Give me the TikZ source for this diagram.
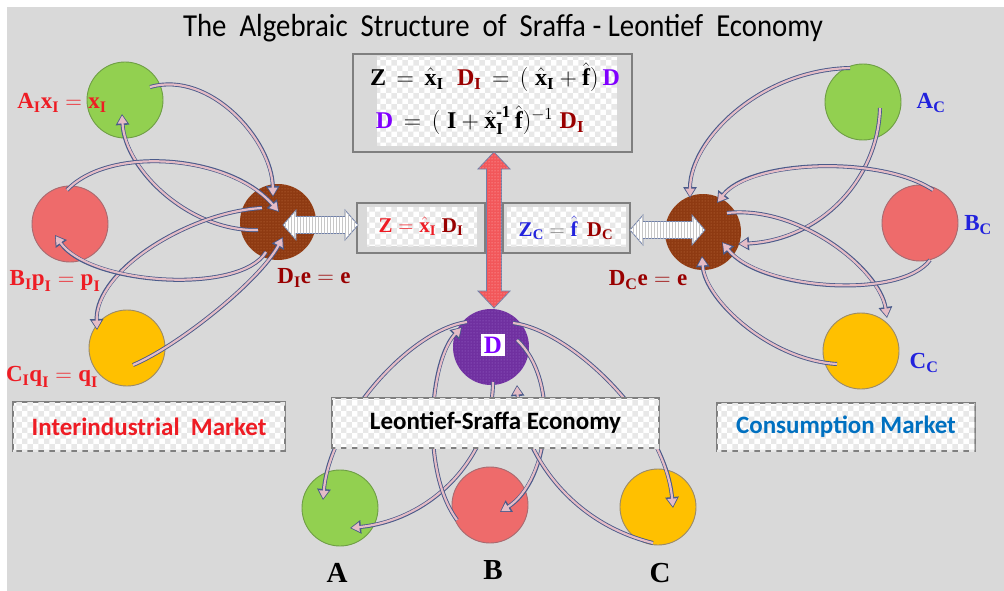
\RequirePackage{fix-cm}
\documentclass[tikz,border=0pt]{standalone}
\usepackage{fontspec}
\usepackage{amsmath}
\newfontfamily\calib{Carlito}
\newfontfamily\titlef[FakeStretch=0.9]{Carlito}
\newfontfamily\tnr{Liberation Serif}
\newcommand\tb[1]{\text{\tnr\bfseries #1}}
\usetikzlibrary{arrows.meta,patterns}
\definecolor{bg}{HTML}{D9D9D9}
\definecolor{cgreen}{HTML}{92D050}
\definecolor{cgreenE}{HTML}{6E9E45}
\definecolor{cred}{HTML}{EE6B6B}
\definecolor{credE}{HTML}{A86A70}
\definecolor{cyel}{HTML}{FFC000}
\definecolor{cyelE}{HTML}{9A8A6A}
\definecolor{cbrown}{HTML}{8E3A12}
\definecolor{cbrownD}{HTML}{C8784A}
\definecolor{cpurp}{HTML}{7030A0}
\definecolor{cpurpD}{HTML}{A070D0}
\definecolor{ribE}{HTML}{4A5A8A}
\definecolor{ribF}{HTML}{E4BCC6}
\definecolor{boxE}{HTML}{7F7F7F}
\definecolor{arrE}{HTML}{7080A8}
\definecolor{tred}{HTML}{EE1C24}
\definecolor{tdred}{HTML}{990000}
\definecolor{tblue}{HTML}{2222DD}
\definecolor{tpurp}{HTML}{8000FF}
\definecolor{tcblue}{HTML}{0070C0}
\definecolor{arrred}{HTML}{F2575A}
\tikzset{
  ball/.style={circle, minimum size=76pt, inner sep=0pt, line width=0.9pt},
  ribout/.style={line width=4pt, draw=ribE, -{Triangle[length=11pt,width=13pt]}},
  ribin/.style={line width=2.2pt, draw=ribF, shorten >=1.4pt, -{Triangle[length=8pt,width=9pt]}},
  frame/.style={draw=boxE, line width=2.6pt, fill=bg, inner sep=0pt},
  chk/.style={fill=white, postaction={pattern=checkerboard, pattern color=black!9}},
  mlabel/.style={font=\fontsize{23}{26}\selectfont, inner sep=0pt},
  flabel/.style={font=\fontsize{21}{24}\selectfont, inner sep=0pt},
  tlabel/.style={font=\fontsize{24}{28}\selectfont, inner sep=0pt},
  sanslab/.style={font=\calib\bfseries\fontsize{25}{28}\selectfont},
  warrow/.style={draw=arrE, line width=0.8pt, fill=white, postaction={pattern=vertical lines, pattern color=black!22}},
  rarrow/.style={draw=arrE, line width=0.8pt, fill=arrred, postaction={pattern=dots, pattern color=red!25!white}},
}
\newcommand\ribbon[3]{%
  \draw[ribout] (#1) .. controls #2 .. (#3);
  \draw[ribin] (#1) .. controls #2 .. (#3);}
\begin{document}
\begin{tikzpicture}[x=1pt,y=-1pt]
\useasboundingbox (0,0) rectangle (1004,591);
\fill[white] (0,0) rectangle (1004,591);
\fill[bg] (7,7) rectangle (1004,591);
% title
\node[font=\titlef\fontsize{32}{36}\selectfont] (title) at (503,28) {The\ \ Algebraic\ \ Structure\ \ of\ \ Sraffa - Leontief\ \ Economy};
% circles
\node[ball, fill=cgreen, draw=cgreenE] (AI) at (125,100) {};
\node[ball, fill=cred, draw=credE] (BI) at (70,224) {};
\node[ball, fill=cyel, draw=cyelE] (CI) at (127,348) {};
\node[ball, fill=cbrown, postaction={pattern=dots, pattern color=cbrownD}] (DI) at (278,222) {};
\node[ball, fill=cgreen, draw=cgreenE] (AC) at (863,102) {};
\node[ball, fill=cred, draw=credE] (BC) at (920,223) {};
\node[ball, fill=cyel, draw=cyelE] (CC) at (861,351) {};
\node[ball, fill=cbrown, postaction={pattern=dots, pattern color=cbrownD}] (DC) at (703,232) {};
\node[ball, fill=cpurp, postaction={pattern=dots, pattern color=cpurpD}] (D) at (491,347) {};
\node[ball, fill=cgreen, draw=cgreenE] (A) at (340,508) {};
\node[ball, fill=cred, draw=credE] (B) at (490,505) {};
\node[ball, fill=cyel, draw=cyelE] (C) at (658,507) {};
% ribbon end points
\coordinate (l1a) at (150,87);  \coordinate (l1b) at (273,197);
\coordinate (l2a) at (258,230); \coordinate (l2b) at (122,114);
\coordinate (l3a) at (67,190);  \coordinate (l3b) at (279,212);
\coordinate (l4a) at (262,208); \coordinate (l4b) at (97,330);
\coordinate (l5a) at (266,252); \coordinate (l5b) at (55,235);
\coordinate (l6a) at (133,365); \coordinate (l6b) at (283,237);
\coordinate (r1a) at (850,68);  \coordinate (r1b) at (690,198);
\coordinate (r2a) at (880,108); \coordinate (r2b) at (738,244);
\coordinate (r3a) at (933,190); \coordinate (r3b) at (717,203);
\coordinate (r4a) at (727,213); \coordinate (r4b) at (887,318);
\coordinate (r5a) at (930,260); \coordinate (r5b) at (722,242);
\coordinate (r6a) at (837,364); \coordinate (r6b) at (702,256);
\coordinate (c1a) at (493,382); \coordinate (c1b) at (350,528);
\coordinate (c2a) at (467,322); \coordinate (c2b) at (323,500);
\coordinate (c3a) at (457,520); \coordinate (c3b) at (462,327);
\coordinate (c4a) at (513,323); \coordinate (c4b) at (673,508);
\coordinate (c5a) at (517,340); \coordinate (c5b) at (500,512);
\coordinate (c6a) at (653,543); \coordinate (c6b) at (517,385);
% left ribbons
\ribbon{l1a}{(210,70) and (272,140)}{l1b}
\ribbon{l2a}{(190,232) and (125,170)}{l2b}
\ribbon{l3a}{(110,145) and (230,155)}{l3b}
\ribbon{l4a}{(190,212) and (95,270)}{l4b}
\ribbon{l5a}{(240,295) and (90,285)}{l5b}
\ribbon{l6a}{(180,345) and (260,280)}{l6b}
% right ribbons
\ribbon{r1a}{(760,70) and (690,140)}{r1b}
\ribbon{r2a}{(878,180) and (820,240)}{r2b}
\ribbon{r3a}{(880,155) and (750,160)}{r3b}
\ribbon{r4a}{(800,205) and (880,270)}{r4b}
\ribbon{r5a}{(900,300) and (760,290)}{r5b}
\ribbon{r6a}{(770,360) and (705,300)}{r6b}
% center ribbons
\ribbon{c1a}{(492,460) and (430,520)}{c1b}
\ribbon{c2a}{(410,330) and (330,420)}{c2b}
\ribbon{c3a}{(420,470) and (430,360)}{c3b}
\ribbon{c4a}{(570,330) and (665,420)}{c4b}
\ribbon{c5a}{(560,380) and (550,480)}{c5b}
\ribbon{c6a}{(560,520) and (520,440)}{c6b}
% D label
\node[fill=white, inner sep=3pt, font=\tnr\bfseries\fontsize{25}{27}\selectfont, text=tpurp] (Dl) at (493,345) {D};
% boxes
\node[frame, minimum width=279pt, minimum height=98pt] (topbox) at (492.5,103) {};
\fill[chk] (377,57) rectangle (617,146);
\node[frame, minimum width=128pt, minimum height=50pt] (zl) at (421,228) {};
\fill[chk] (367,207) rectangle (477,246);
\node[frame, minimum width=127pt, minimum height=50pt] (zr) at (566.5,228) {};
\fill[chk] (507,207) rectangle (626,246);
\node[draw=boxE, line width=2.6pt, chk, minimum width=327pt, minimum height=50pt, sanslab, text=black] (ls) at (495.5,423) {Leontief-Sraffa Economy};
\node[draw=boxE, line width=2.6pt, chk, minimum width=272pt, minimum height=49pt, sanslab, text=tred] (im) at (149,426.5) {Interindustrial\ \ Market};
\node[draw=boxE, line width=2.6pt, chk, minimum width=258pt, minimum height=48pt, sanslab, text=tcblue] (cm) at (846,427) {Consumption Market};
% big double arrows
\coordinate (va1) at (494,152); \coordinate (va2) at (494,308);
\draw[rarrow] (va1) -- ++(16,17) -- ++(-8.5,0) -- ++(0,122) -- ++(8.5,0) -- (va2)
  -- ++(-16,-17) -- ++(8.5,0) -- ++(0,-122) -- ++(-8.5,0) -- cycle;
\coordinate (wl1) at (283,225); \coordinate (wl2) at (358,225);
\draw[warrow] (wl1) -- ++(13,-15) -- ++(0,6.5) -- ++(49,0) -- ++(0,-6.5) -- (wl2)
  -- ++(-13,15) -- ++(0,-6.5) -- ++(-49,0) -- ++(0,6.5) -- cycle;
\coordinate (wr1) at (630,230); \coordinate (wr2) at (705,230);
\draw[warrow] (wr1) -- ++(13,-15) -- ++(0,6.5) -- ++(49,0) -- ++(0,-6.5) -- (wr2)
  -- ++(-13,15) -- ++(0,-6.5) -- ++(-49,0) -- ++(0,6.5) -- cycle;
% formulas
\node[tlabel] (f1) at (495,77) {$\tb{Z}\,=\,\hat{\tb{x}}_{\tb{I}}\;\;{\color{tdred}\tb{D}_{\tb{I}}}\,=\,(\;\hat{\tb{x}}_{\tb{I}}+\hat{\tb{f}})\,{\color{tpurp}\tb{D}}$};
\node[tlabel] (f2) at (480,120) {${\color{tpurp}\tb{D}}\,=\,(\;\tb{I}+\hat{\tb{x}}_{\tb{I}}^{\tb{-1}}\,\hat{\tb{f}})^{-1}\;{\color{tdred}\tb{D}_{\tb{I}}}$};
\node[flabel, text=tred] (zlt) at (421,226) {$\tb{Z}=\hat{\tb{x}}_{\tb{I}}\;{\color{tdred}\tb{D}_{\tb{I}}}$};
\node[flabel, text=tblue] (zrt) at (566,228) {$\tb{Z}_{\tb{C}}\;{\color{gray}=}\;\hat{\tb{f}}\;\,{\color{tdred}\tb{D}_{\tb{C}}}$};
% labels
\node[mlabel, text=tred] (la) at (62,103) {$\tb{A}_{\tb{I}}\tb{x}_{\tb{I}}=\tb{x}_{\tb{I}}$};
\node[mlabel, text=tred] (lb) at (55,281) {$\tb{B}_{\tb{I}}\tb{p}_{\tb{I}}=\tb{p}_{\tb{I}}$};
\node[mlabel, text=tred] (lc) at (52,377) {$\tb{C}_{\tb{I}}\tb{q}_{\tb{I}}=\tb{q}_{\tb{I}}$};
\node[mlabel, text=tdred] (ld) at (314,278) {$\tb{D}_{\tb{I}}\tb{e}=\tb{e}$};
\node[mlabel, text=tdred] (ldc) at (648,280) {$\tb{D}_{\tb{C}}\tb{e}=\tb{e}$};
\node[mlabel, text=tblue] (lac) at (931,103) {$\tb{A}_{\tb{C}}$};
\node[mlabel, text=tblue] (lbc) at (978,225) {$\tb{B}_{\tb{C}}$};
\node[mlabel, text=tblue] (lcc) at (924,363) {$\tb{C}_{\tb{C}}$};
\node[font=\tnr\bfseries\fontsize{29}{32}\selectfont] (lA) at (337,573) {A};
\node[font=\tnr\bfseries\fontsize{29}{32}\selectfont] (lB) at (493,570) {B};
\node[font=\tnr\bfseries\fontsize{29}{32}\selectfont] (lC) at (660,573) {C};
\end{tikzpicture}
\end{document}
